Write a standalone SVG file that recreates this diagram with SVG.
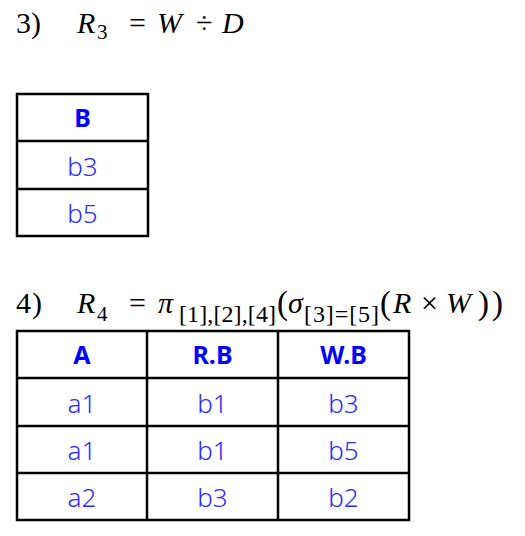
<svg xmlns="http://www.w3.org/2000/svg" width="525" height="536" viewBox="0 0 525 536">
<style>
.m{font-family:"Liberation Serif","DejaVu Serif",serif;font-size:30px;fill:#000}
.i{font-style:italic}
.s{font-size:21px}
.t{font-size:24px}
.p{font-size:33px}
.h{font-family:"Noto Sans","Liberation Sans",sans-serif;font-weight:bold;font-size:25px;fill:#0000ff;text-anchor:middle}
.d{font-family:"Noto Sans","Liberation Sans",sans-serif;font-weight:300;font-size:26px;fill:#2b2bff;text-anchor:middle}
.g{fill:none;stroke:#000;stroke-width:2.5}
</style>
<rect width="525" height="536" fill="#fff"/>
<g id="formula3">
<text class="m" x="16" y="33">3</text>
<text class="m" x="31" y="33">)</text>
<text class="m i" x="77" y="33">R</text>
<text class="m s" x="97" y="39">3</text>
<text class="m" x="129" y="33">=</text>
<text class="m i" x="157" y="33">W</text>
<text class="m" x="196" y="33">÷</text>
<text class="m i" x="222" y="33">D</text>
</g>
<g id="table3">
<rect class="g" x="17" y="94" width="131" height="142"/>
<line class="g" x1="17" y1="141" x2="148" y2="141"/>
<line class="g" x1="17" y1="189" x2="148" y2="189"/>
<text class="h" x="82.5" y="127">B</text>
<text class="d" x="82.5" y="176">b3</text>
<text class="d" x="82.5" y="223">b5</text>
</g>
<g id="formula4">
<text class="m" x="16" y="313">4</text>
<text class="m" x="32" y="313">)</text>
<text class="m i" x="77" y="313">R</text>
<text class="m s" x="97" y="321">4</text>
<text class="m" x="129" y="313">=</text>
<text class="m i" x="158" y="313">π</text>
<text class="m t" x="179" y="322" textLength="97" lengthAdjust="spacing">[1],[2],[4]</text>
<text class="m p" x="277" y="314">(</text>
<text class="m i" x="288" y="313">σ</text>
<text class="m t" x="304" y="322" textLength="75" lengthAdjust="spacing">[3]=[5]</text>
<text class="m p" x="380" y="314">(</text>
<text class="m i" x="393" y="313">R</text>
<text class="m" x="421" y="313">×</text>
<text class="m i" x="446" y="313">W</text>
<text class="m p" x="478" y="314" textLength="25" lengthAdjust="spacing">))</text>
</g>
<g id="table4">
<rect class="g" x="17" y="331" width="392" height="189"/>
<line class="g" x1="147" y1="331" x2="147" y2="520"/>
<line class="g" x1="278" y1="331" x2="278" y2="520"/>
<line class="g" x1="17" y1="378" x2="409" y2="378"/>
<line class="g" x1="17" y1="426" x2="409" y2="426"/>
<line class="g" x1="17" y1="473" x2="409" y2="473"/>
<text class="h" x="82" y="364">A</text>
<text class="h" x="212.5" y="364">R.B</text>
<text class="h" x="343.5" y="364">W.B</text>
<text class="d" x="82" y="413">a1</text>
<text class="d" x="212.5" y="413">b1</text>
<text class="d" x="343.5" y="413">b3</text>
<text class="d" x="82" y="460">a1</text>
<text class="d" x="212.5" y="460">b1</text>
<text class="d" x="343.5" y="460">b5</text>
<text class="d" x="82" y="507">a2</text>
<text class="d" x="212.5" y="507">b3</text>
<text class="d" x="343.5" y="507">b2</text>
</g>
</svg>
